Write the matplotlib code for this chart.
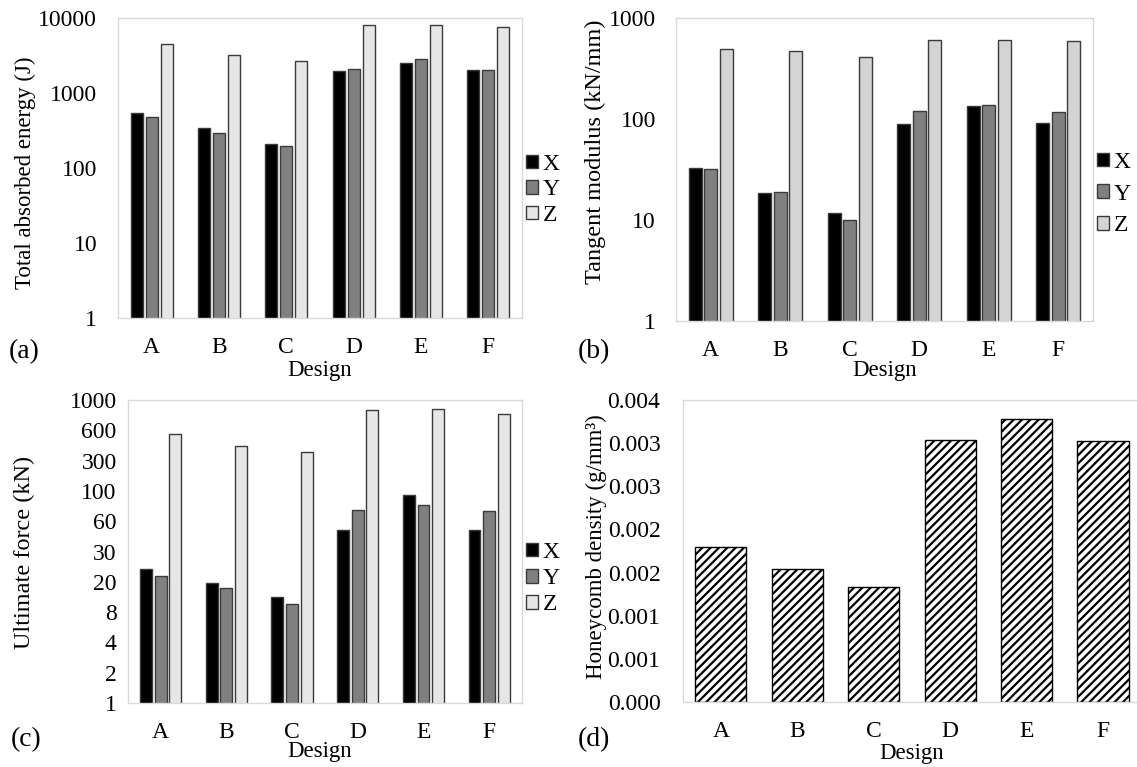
import matplotlib
matplotlib.use("Agg")
import matplotlib.pyplot as plt
import numpy as np

plt.rcParams['font.family'] = ['Liberation Serif', 'DejaVu Serif']
plt.rcParams['hatch.linewidth'] = 1.6

designs = ['A', 'B', 'C', 'D', 'E', 'F']
directions = ['X', 'Y', 'Z']

# (a) total absorbed energy (J)
energy_x = [536, 338, 209, 1983, 2490, 2026]
energy_y = [483, 296, 198, 2070, 2840, 2026]
energy_z = [4500, 3210, 2700, 8070, 8150, 7660]

# (b) tangent modulus (kN/mm)
modulus_x = [33, 18.4, 11.7, 89, 135, 92]
modulus_y = [32, 19, 10, 120, 137, 118]
modulus_z = [496, 467, 410, 600, 600, 592]

# (c) ultimate force (kN)
force_x = [21.1, 15.4, 11.3, 51.8, 115, 51.8]
force_y = [18.2, 13.7, 9.6, 81.7, 91.6, 80.5]
force_z = [458, 354, 308, 797, 815, 722]
force_tick_labels = ['1', '2', '4', '8', '20', '30', '60', '100', '300', '600', '1000']

# (d) honeycomb density (g/mm^3)
density = [0.00180, 0.00154, 0.00133, 0.00304, 0.00328, 0.00303]
density_ticks = [0, 0.0005, 0.001, 0.0015, 0.002, 0.0025, 0.003, 0.0035]
density_tick_labels = ['0.000', '0.001', '0.001', '0.002', '0.002', '0.003', '0.003', '0.004']

FS = 17
SPINE = '#d9d9d9'
EDGE = '#3a3a3a'


def style_axes(ax, pad_y):
    for s in ax.spines.values():
        s.set_color(SPINE)
        s.set_linewidth(1.0)
    ax.tick_params(axis='both', length=0, labelsize=FS)
    ax.tick_params(axis='x', pad=14)
    ax.tick_params(axis='y', pad=pad_y)


def place_labels(ax, ylabel, ylab_xy, xlab_xy, ysize):
    ax.set_xlabel('Design', fontsize=16.5)
    ax.set_ylabel(ylabel, fontsize=ysize)
    ax.xaxis.set_label_coords(*xlab_xy)
    ax.yaxis.set_label_coords(*ylab_xy)
    ax.yaxis.label.set_verticalalignment('center')


def grouped_log_bars(ax, xs, ys, zs, z_color, ylim, leg_y, leg_space, pad_y):
    pos = np.arange(len(designs))
    step, w = 0.223, 0.18
    colors = ['black', '#808080', z_color]
    for k, (vals, c) in enumerate(zip([xs, ys, zs], colors)):
        ax.bar(pos + (k - 1) * step, vals, width=w, color=c, edgecolor=EDGE,
               linewidth=1.0, label=directions[k])
    ax.set_yscale('log')
    ax.set_ylim(*ylim)
    ax.set_xlim(-0.5, len(designs) - 0.5)
    ax.set_xticks(pos)
    ax.set_xticklabels(designs)
    ax.minorticks_off()
    style_axes(ax, pad_y)
    ax.legend(loc='center left', bbox_to_anchor=(1.01, leg_y), frameon=False,
              fontsize=FS, handlelength=0.5, handleheight=0.5, handletextpad=0.2,
              labelspacing=leg_space, borderaxespad=0, borderpad=0)


W, H = 1137, 767
fig = plt.figure(figsize=(W / 100, H / 100), dpi=100)


def px_axes(x0, x1, y0, y1):
    return fig.add_axes([x0 / W, 1 - y1 / H, (x1 - x0) / W, (y1 - y0) / H])


ax_a = px_axes(118, 522, 18, 318)
grouped_log_bars(ax_a, energy_x, energy_y, energy_z, '#e6e6e6', (1, 10000), 0.427, 0.2, 15)
ax_a.set_yticks([1, 10, 100, 1000, 10000])
ax_a.set_yticklabels(['1', '10', '100', '1000', '10000'])
place_labels(ax_a, 'Total absorbed energy (J)', (-0.230, 0.483), (0.5, -0.14), 16.5)

ax_b = px_axes(676, 1093, 18, 321)
grouped_log_bars(ax_b, modulus_x, modulus_y, modulus_z, '#d4d4d4', (1, 1000), 0.419, 0.45, 14.5)
ax_b.set_yticks([1, 10, 100, 1000])
ax_b.set_yticklabels(['1', '10', '100', '1000'])
place_labels(ax_b, 'Tangent modulus (kN/mm)', (-0.194, 0.559), (0.5, -0.129), 17.5)

ax_c = px_axes(127.8, 522, 400, 703)
grouped_log_bars(ax_c, force_x, force_y, force_z, '#e6e6e6', (1, 1000), 0.41, 0.22, 8)
ax_c.set_yticks([10 ** (0.3 * k) for k in range(len(force_tick_labels))])
ax_c.set_yticklabels(force_tick_labels)
place_labels(ax_c, 'Ultimate force (kN)', (-0.261, 0.498), (0.487, -0.125), 17.5)

ax_d = px_axes(682.7, 1137, 400, 702)
pos = np.arange(len(designs))
ax_d.bar(pos, density, width=0.67, color='white', edgecolor='black',
         hatch='////', linewidth=1.0)
ax_d.set_xlim(-0.5, 5.446)
ax_d.set_ylim(0, 0.0035)
ax_d.set_xticks(pos)
ax_d.set_xticklabels(designs)
ax_d.set_yticks(density_ticks)
ax_d.set_yticklabels(density_tick_labels)
style_axes(ax_d, 16)
ax_d.spines['right'].set_visible(False)
place_labels(ax_d, 'Honeycomb density (g/mm³)', (-0.189, 0.513), (0.503, -0.136), 16.5)

for lbl, (x, y) in zip(['(a)', '(b)', '(c)', '(d)'],
                       [(9, 352), (578, 352), (11, 740), (578, 740)]):
    fig.text(x / W, 1 - y / H, lbl, fontsize=20, va='center', ha='left')

fig.savefig('out.png', dpi=100)
